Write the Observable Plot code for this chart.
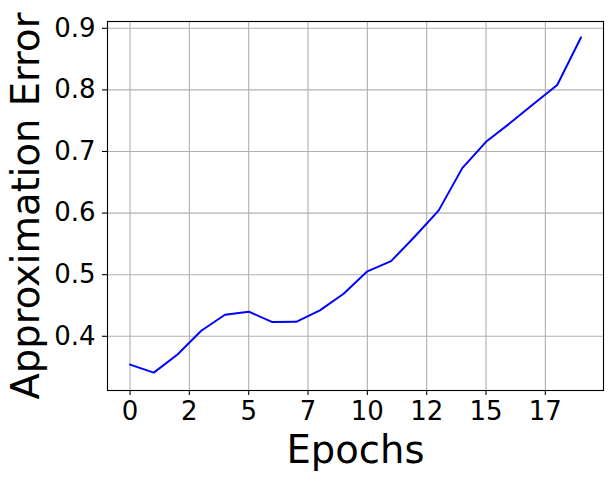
<!DOCTYPE html>
<html><head><meta charset="utf-8">
<script src="https://cdn.jsdelivr.net/npm/d3@7"></script>
<script src="https://cdn.jsdelivr.net/npm/@observablehq/plot@0.6"></script>
<style>body{margin:0;background:#fff}</style>
</head><body><div id="chart"></div>
<script>
const epochs = [0,1,2,3,4,5,6,7,8,9,10,11,12,13,14,15,16,17,18,19];
const errors = [0.354,0.341,0.3705,0.409,0.435,0.440,0.423,0.4235,0.442,0.469,0.5055,0.522,0.562,0.604,0.673,0.7157,0.7457,0.777,0.808,0.885];
const xTicks = [0,2.5,5,7.5,10,12.5,15,17.5];
const xTickLabels = ["0","2","5","7","10","12","15","17"];
const yTicks = [0.4,0.5,0.6,0.7,0.8,0.9];
const yTickLabels = ["0.4","0.5","0.6","0.7","0.8","0.9"];
const xLabel = "Epochs";
const yLabel = "Approximation Error";

const data = epochs.map((e, i) => ({epoch: e, error: errors[i]}));

const chart = Plot.plot({
  width: 613, height: 481,
  marginLeft: 107, marginRight: 10, marginTop: 21, marginBottom: 91,
  style: {fontFamily: "DejaVu Sans", background: "white", color: "black"},
  x: {domain: [-0.95, 19.95]},
  y: {domain: [0.312, 0.911]},
  marks: [
    Plot.gridX(xTicks, {stroke: "#b0b0b0", strokeOpacity: 1, strokeWidth: 1.1}),
    Plot.gridY(yTicks, {stroke: "#b0b0b0", strokeOpacity: 1, strokeWidth: 1.1}),
    Plot.line(data, {x: "epoch", y: "error", stroke: "#0000ff", strokeWidth: 2}),
    Plot.frame({stroke: "black", strokeWidth: 1.1}),
    Plot.axisX(xTicks, {tickSize: 5, tickPadding: 6.5, fontSize: 26, strokeWidth: 1.1,
      tickFormat: d => xTickLabels[xTicks.indexOf(d)], label: null}),
    Plot.axisY(yTicks, {tickSize: 5, tickPadding: 7, fontSize: 26, strokeWidth: 1.1,
      tickFormat: d => yTickLabels[yTicks.indexOf(d)], label: null}),
    Plot.text([xLabel], {frameAnchor: "bottom", dy: 60, fontSize: 38.5, text: d => d, fill: "black",
      textAnchor: "middle", lineAnchor: "middle"}),
    Plot.text([yLabel], {frameAnchor: "left", rotate: -90, dx: -81, fontSize: 38.5, text: d => d, fill: "black",
      textAnchor: "middle", lineAnchor: "middle"})
  ]
});
document.getElementById("chart").appendChild(chart);
</script>
</body></html>
